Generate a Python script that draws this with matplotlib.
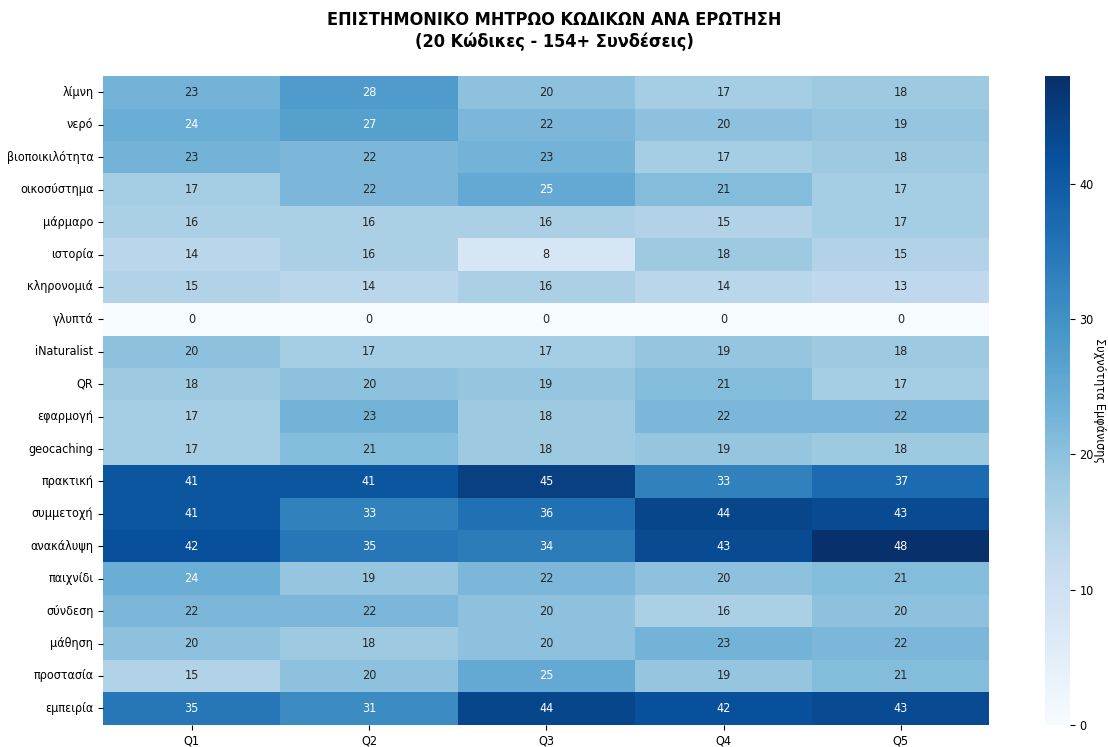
import matplotlib
matplotlib.use("Agg")
import matplotlib.pyplot as plt
import seaborn as sns
import pandas as pd

codes = ["λίμνη", "νερό", "βιοποικιλότητα", "οικοσύστημα", "μάρμαρο", "ιστορία",
         "κληρονομιά", "γλυπτά", "iNaturalist", "QR", "εφαρμογή", "geocaching",
         "πρακτική", "συμμετοχή", "ανακάλυψη", "παιχνίδι", "σύνδεση", "μάθηση",
         "προστασία", "εμπειρία"]
questions = ["Q1", "Q2", "Q3", "Q4", "Q5"]

q1 = [23, 24, 23, 17, 16, 14, 15, 0, 20, 18, 17, 17, 41, 41, 42, 24, 22, 20, 15, 35]
q2 = [28, 27, 22, 22, 16, 16, 14, 0, 17, 20, 23, 21, 41, 33, 35, 19, 22, 18, 20, 31]
q3 = [20, 22, 23, 25, 16, 8, 16, 0, 17, 19, 18, 18, 45, 36, 34, 22, 20, 20, 25, 44]
q4 = [17, 20, 17, 21, 15, 18, 14, 0, 19, 21, 22, 19, 33, 44, 43, 20, 16, 23, 19, 42]
q5 = [18, 19, 18, 17, 17, 15, 13, 0, 18, 17, 22, 18, 37, 43, 48, 21, 20, 22, 21, 43]

df = pd.DataFrame({"Q1": q1, "Q2": q2, "Q3": q3, "Q4": q4, "Q5": q5}, index=codes)

# condensed look of the reference
plt.rcParams["font.family"] = ["DejaVu Sans"]
plt.rcParams["font.stretch"] = "condensed"

fig = plt.figure(figsize=(11.08, 7.47), dpi=100)
ax = fig.add_axes([0.093, 0.03, 0.80, 0.868])
cax = fig.add_axes([0.943, 0.03, 0.0226, 0.868])

sns.heatmap(df, ax=ax, cbar_ax=cax, cmap="Blues", annot=True, fmt="d",
            annot_kws={"size": 9})

ax.set_xticklabels(questions, fontsize=9)
ax.set_yticklabels(codes, rotation=0, fontsize=9)
cax.tick_params(labelsize=9)
cax.set_ylabel("Συχνότητα Εμφάνισης", rotation=270, fontsize=9,
               va="center", ha="center")
cax.yaxis.set_label_coords(2.2, 0.5)

fig.suptitle("ΕΠΙΣΤΗΜΟΝΙΚΟ ΜΗΤΡΩΟ ΚΩΔΙΚΩΝ ΑΝΑ ΕΡΩΤΗΣΗ\n(20 Κώδικες - 154+ Συνδέσεις)",
             fontsize=13, fontweight="bold", y=0.985)

fig.savefig("out.png", dpi=100)
